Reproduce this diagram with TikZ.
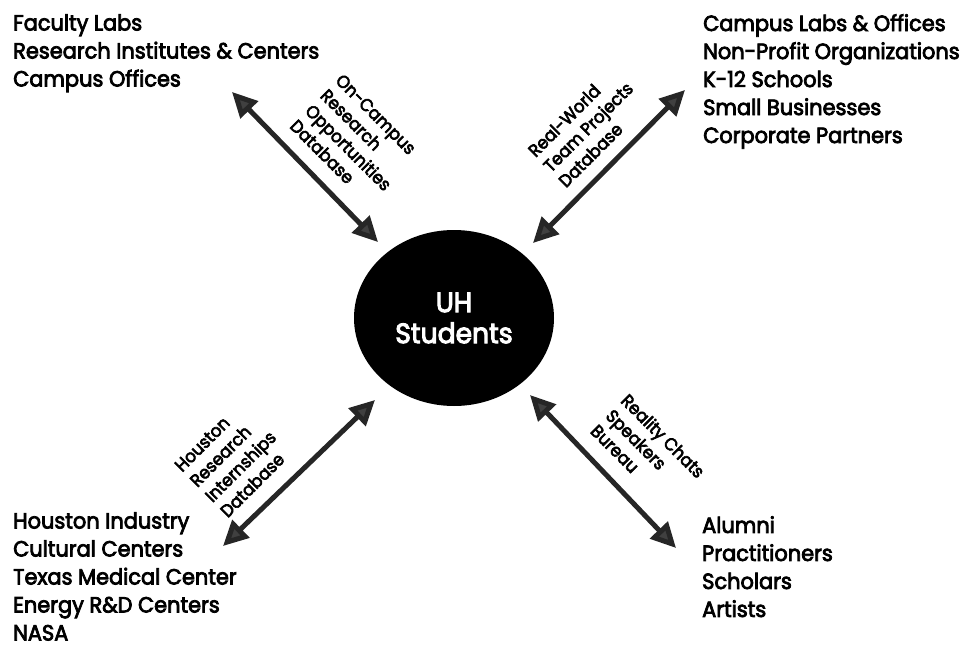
\documentclass[tikz,border=0pt]{standalone}
\usepackage{fontspec}
\setmainfont{Poppins}[FakeStretch=0.95,FakeBold=3.5]
\usetikzlibrary{arrows.meta,shapes.geometric}
\begin{document}
\begin{tikzpicture}[x=1pt,y=-1pt,
  group/.style={anchor=north west, inner sep=0pt, align=left, font=\fontsize{22}{28}\selectfont},
  lab/.style={inner sep=0pt, align=left, font=\fontsize{17.5}{21.5}\selectfont},
  link/.style={draw=black!85, line width=5pt,
    {Triangle[length=25pt,width=24pt,fill=black!75]}-{Triangle[length=25pt,width=24pt,fill=black!75]}}
]
\useasboundingbox (0,0) rectangle (975,648);
\node[ellipse, fill=black, minimum width=200pt, minimum height=176pt, inner sep=0pt,
  text=white, align=center, font=\fontsize{28}{31}\selectfont] (uh) at (454,318) {UH\\Students};

\node[group] (tl) at (13,14) {Faculty Labs\\Research Institutes \& Centers\\Campus Offices};
\node[group] (tr) at (703,14) {Campus Labs \& Offices\\Non-Profit Organizations\\K-12 Schools\\Small Businesses\\Corporate Partners};
\node[group] (bl) at (13,512) {Houston Industry\\Cultural Centers\\Texas Medical Center\\Energy R\&D Centers\\NASA};
\node[group] (br) at (702,516) {Alumni\\Practitioners\\Scholars\\Artists};

\coordinate (nwa) at (232,92);
\coordinate (nwb) at (378,242);
\coordinate (nea) at (685,90);
\coordinate (neb) at (533,243);
\coordinate (swa) at (375,400);
\coordinate (swb) at (223,546);
\coordinate (sea) at (530,395);
\coordinate (seb) at (676,548);

\draw[link] (nwa) -- (nwb);
\draw[link] (nea) -- (neb);
\draw[link] (swa) -- (swb);
\draw[link] (sea) -- (seb);

\node[lab, rotate=-45] (lnw) at (356,140) {On-Campus\\Research\\Opportunities\\Database};
\node[lab, rotate=45] (lne) at (588,127) {Real-World\\Team Projects\\Database};
\node[lab, rotate=45] (lsw) at (233,459) {Houston\\Research\\Internships\\Database};
\node[lab, rotate=-45] (lse) at (648,451) {Reality Chats\\Speakers\\Bureau};
\end{tikzpicture}
\end{document}
